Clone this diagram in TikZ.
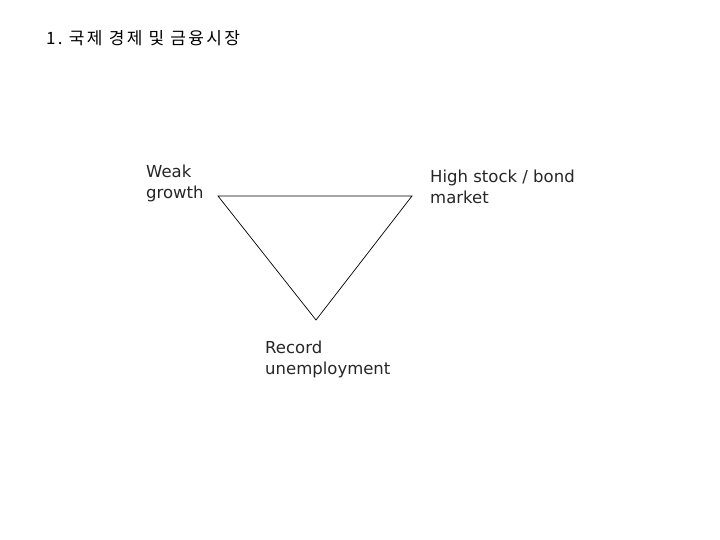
\documentclass[tikz,border=0pt]{standalone}
\usepackage{fontspec}
\setmainfont{DejaVu Sans}
\newfontfamily\kr[LetterSpace=14]{Noto Sans CJK KR}
\begin{document}
\begin{tikzpicture}[x=1pt,y=-1pt,
  lab/.style={anchor=north west,align=left,inner sep=0pt,font=\fontsize{16.5}{21}\selectfont,text=black!85}]
\useasboundingbox (0,0) rectangle (720,540);
\node[anchor=west,inner sep=0pt,font=\kr\fontsize{17}{18}\selectfont] (title) at (46,38) {1.\ 국제 경제 및 금융시장};
\coordinate (a) at (218,196);
\coordinate (b) at (412,196);
\coordinate (c) at (316,320);
\draw[line width=0.7pt] (a) -- (b) -- (c) -- cycle;
\node[lab] (w) at (146,165) {Weak\\growth};
\node[lab] (h) at (430,170) {High stock / bond\\market};
\node[lab] (r) at (265,341) {Record\\unemployment};
\end{tikzpicture}
\end{document}
